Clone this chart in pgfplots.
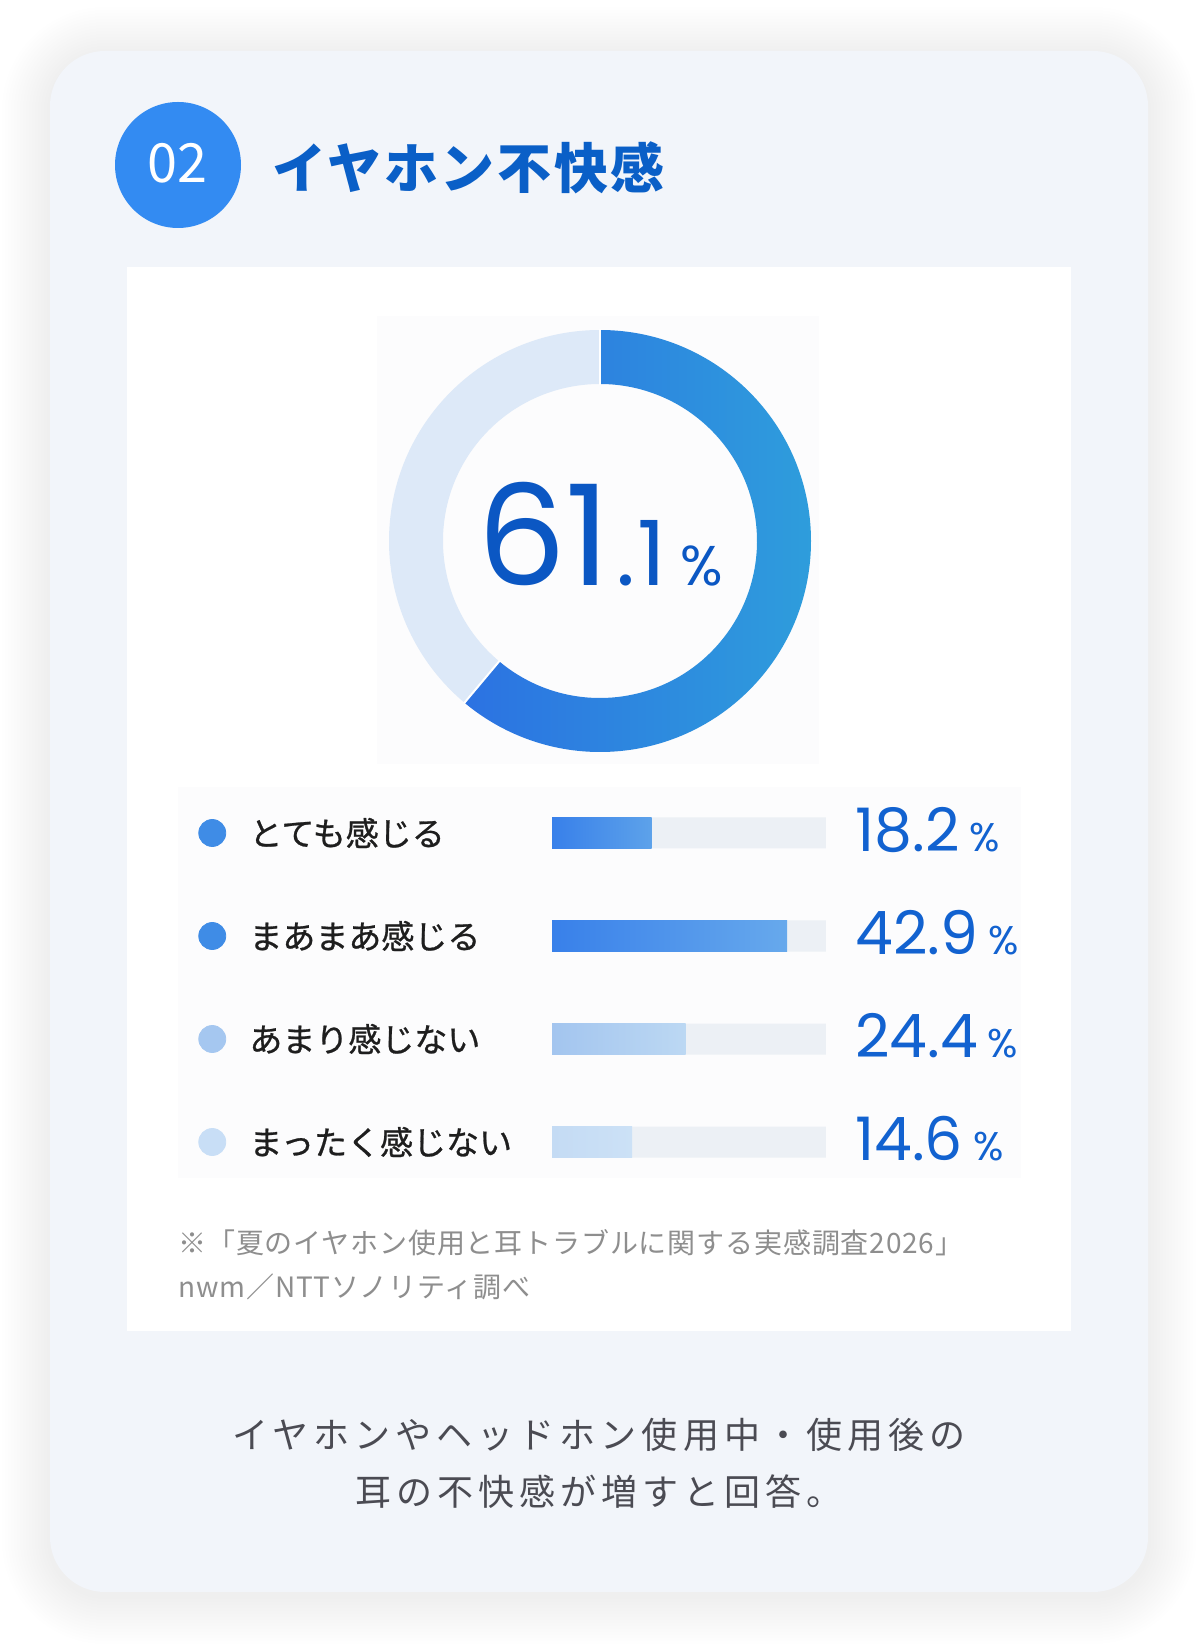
\documentclass[border=0pt]{standalone}
\usepackage{pgfplots}
\pgfplotsset{compat=1.18}
\usepackage{pgfplotstable}
\usepackage{fontspec}
\setmainfont{Noto Sans CJK JP}
\newfontfamily\num{Poppins}
\newfontfamily\capfont[LetterSpace=14]{Noto Sans CJK JP}
\newfontfamily\titlefont[LetterSpace=5]{Noto Sans CJK JP}
\newfontfamily\notefont[LetterSpace=3]{Noto Sans CJK JP}
\newfontfamily\labfont[FakeBold=0.8]{Noto Sans CJK JP}

\definecolor{cardbg}{HTML}{F2F5FA}
\definecolor{badge}{HTML}{338BF2}
\definecolor{titleblue}{HTML}{0A5FC7}
\definecolor{ringlight}{HTML}{DDE9F8}
\definecolor{ringA}{HTML}{2C72E2}
\definecolor{ringB}{HTML}{2E9DDC}
\definecolor{numblue}{HTML}{0B57C3}
\definecolor{valblue}{HTML}{1262D0}
\definecolor{track}{HTML}{ECF0F5}
\definecolor{labelc}{HTML}{1E1E1E}
\definecolor{notec}{HTML}{8E8E8E}
\definecolor{capc}{HTML}{4B4B53}
\definecolor{faint}{HTML}{FCFCFD}
\definecolor{dotA}{HTML}{3F8CE6}
\definecolor{dotB}{HTML}{3F8CE6}
\definecolor{dotC}{HTML}{A5C7F0}
\definecolor{dotD}{HTML}{C8DEF6}
\definecolor{barA1}{HTML}{3880EA}\definecolor{barA2}{HTML}{5DA2EA}
\definecolor{barB1}{HTML}{3880EA}\definecolor{barB2}{HTML}{67A9EC}
\definecolor{barC1}{HTML}{A3C5EF}\definecolor{barC2}{HTML}{BCD8F3}
\definecolor{barD1}{HTML}{C4DBF4}\definecolor{barD2}{HTML}{CCE1F6}

% share of "feel discomfort" (donut)
\def\donutval{61.1}

% rows of the bar list (0 = top)
\pgfplotstableread{
y v
0 18.2
1 42.9
2 24.4
3 14.6
}\rows

\begin{document}
\begin{tikzpicture}[x=0.5pt,y=0.5pt]
\useasboundingbox (0,0) rectangle (1200,1646);
\fill[white] (0,0) rectangle (1200,1646);

% soft shadow + card
\foreach \i in {1,...,16}{
  \pgfmathsetmacro\rr{27.5+1.5*\i}
  \fill[black,opacity=0.005,rounded corners=\rr pt] (50-3*\i,54-3*\i-4) rectangle (1148+3*\i,1595+3*\i-4);
}
\fill[cardbg,rounded corners=27.5pt] (50,54) rectangle (1148,1595);

% badge and title
\fill[badge] (178,1481) circle[radius=31.5pt];
\node[anchor=base,inner sep=0,white,font=\fontsize{27}{30}\selectfont] at (177,1463) {02};
\node[anchor=base west,inner sep=0,titleblue,font=\titlefont\bfseries\fontsize{27}{30}\selectfont] at (272,1457) {イヤホン不快感};

% white panel
\fill[white] (127,315) rectangle (1071,1379);
\fill[faint] (377,882) rectangle (819,1330);
\fill[faint] (178,468) rectangle (1021,859);

% donut
\pgfmathsetmacro\endang{90-3.6*\donutval}
\begin{axis}[
  at={(300pt,552.5pt)}, anchor=center,
  width=211pt, height=211pt, scale only axis,
  xmin=-1, xmax=1, ymin=-1, ymax=1,
  hide axis, clip=false,
]
\fill[ringlight] (axis cs:0,0) ++(90:105.5pt) arc[start angle=90,end angle=\endang+360,radius=105.5pt]
  -- ++(\endang:-27pt) arc[start angle=\endang+360,end angle=90,radius=78.5pt] -- cycle;
\path[left color=ringA,right color=ringB] (axis cs:0,0) ++(90:105.5pt) arc[start angle=90,end angle=\endang,radius=105.5pt]
  -- ++(\endang:-27pt) arc[start angle=\endang,end angle=90,radius=78.5pt] -- cycle;
\draw[white,line width=1pt] (axis cs:0,0) ++(90:78pt) -- ++(90:28pt);
\draw[white,line width=1pt] (axis cs:0,0) ++(\endang:78pt) -- ++(\endang:28pt);
\node[anchor=base,inner sep=0,numblue] at (axis cs:0,0) [yshift=-22.5pt]
  {{\num\fontsize{70}{70}\selectfont 61}\hspace{3pt}{\num\fontsize{45}{45}\selectfont .\kern1pt1}\hspace{7pt}{\num\fontsize{28}{28}\selectfont\%}};
\end{axis}

% bar list
\begin{axis}[
  at={(276pt,432.25pt)}, anchor=north west,
  width=137pt, height=206pt, scale only axis,
  xmin=0, xmax=50, ymin=-0.5, ymax=3.5, y dir=reverse,
  xbar, bar width=15.5pt, bar shift=0pt,
  clip=false,
  axis line style={draw=none}, major tick length=0pt,
  xtick=\empty, ytick={0,1,2,3},
  yticklabels={とても感じる,まあまあ感じる,あまり感じない,まったく感じない},
  yticklabel style={anchor=west,inner sep=0pt,xshift=-151.5pt,text=labelc,font=\labfont\fontsize{16.5}{18}\selectfont},
]
\addplot[draw=none,fill=track,point meta=explicit symbolic,
  nodes near coords={{\num\fontsize{30}{34}\selectfont\pgfplotspointmeta}\hspace{5pt}{\num\fontsize{20}{22}\selectfont\%}},
  nodes near coords style={anchor=base west,inner sep=0pt,xshift=14.5pt,yshift=-9pt,text=valblue}]
  table[x expr=50,y=y,meta=v] {\rows};
\addplot[draw=none,left color=barA1,right color=barA2] table[x=v,y=y,skip coords between index={1}{4}] {\rows};
\addplot[draw=none,left color=barB1,right color=barB2] table[x=v,y=y,skip coords between index={0}{1},skip coords between index={2}{4}] {\rows};
\addplot[draw=none,left color=barC1,right color=barC2] table[x=v,y=y,skip coords between index={0}{2},skip coords between index={3}{4}] {\rows};
\addplot[draw=none,left color=barD1,right color=barD2] table[x=v,y=y,skip coords between index={0}{3}] {\rows};
\addplot[only marks,mark=*,mark size=6.75pt,dotA] table[x expr=-62,y=y,skip coords between index={1}{4}] {\rows};
\addplot[only marks,mark=*,mark size=6.75pt,dotB] table[x expr=-62,y=y,skip coords between index={0}{1},skip coords between index={2}{4}] {\rows};
\addplot[only marks,mark=*,mark size=6.75pt,dotC] table[x expr=-62,y=y,skip coords between index={0}{2},skip coords between index={3}{4}] {\rows};
\addplot[only marks,mark=*,mark size=6.75pt,dotD] table[x expr=-62,y=y,skip coords between index={0}{3}] {\rows};
\end{axis}

% source note
\node[anchor=base west,inner sep=0,notec,font=\notefont\fontsize{14}{16}\selectfont] at (178,392) {※「夏のイヤホン使用と耳トラブルに関する実感調査2026」};
\node[anchor=base west,inner sep=0,notec,font=\notefont\fontsize{14}{16}\selectfont] at (178,348) {nwm／NTTソノリティ調べ};

% caption
\node[anchor=base,inner sep=0,capc,font=\capfont\fontsize{18}{20}\selectfont] at (599,197) {イヤホンやヘッドホン使用中・使用後の};
\node[anchor=base,inner sep=0,capc,font=\capfont\fontsize{18}{20}\selectfont] at (599,140) {耳の不快感が増すと回答。};
\end{tikzpicture}
\end{document}
